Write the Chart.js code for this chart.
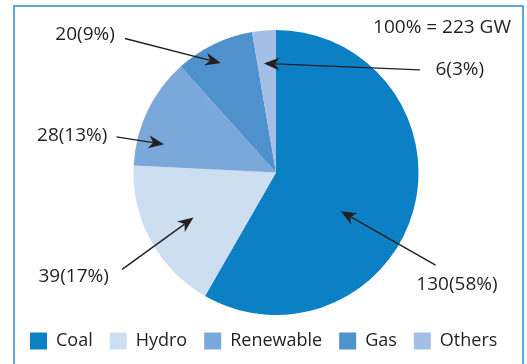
<!DOCTYPE html>
<html>
<head>
<meta charset="utf-8">
<title>Installed capacity by source</title>
<script src="https://cdn.jsdelivr.net/npm/chart.js@4"></script>
<style>
  html, body { margin: 0; padding: 0; background: #fff; overflow: hidden; }
  #frame {
    position: absolute; left: 13px; top: 5px;
    width: 511px; height: 420px;
    box-sizing: border-box;
    border: 2px solid #5ca9de;
  }
  #wrap { position: absolute; left: 0; top: 0; width: 539px; height: 364px; }
</style>
</head>
<body>
<div id="frame"></div>
<div id="wrap"><canvas id="capacityChart" width="539" height="364"></canvas></div>
<script>
// installed capacity, GW
const sources = ['Coal', 'Hydro', 'Renewable', 'Gas', 'Others'];
const capacityGW = [130, 39, 28, 20, 6];
const sliceColors = ['#0b80c4', '#cedef1', '#7ba8da', '#4f91cd', '#a4bfe5'];

// callout layout: t = where in the slice the arrow points, depth = fraction of radius,
// tail / label = offsets from the pie centre in units of radius
const callouts = [
    { t: 0.576, depth: 0.53, tail: [1.12, 0.65],   label: [1.27, 0.79] },
    { t: 0.50,  depth: 0.66, tail: [-1.08, 0.68],  label: [-1.42, 0.73] },
    { t: 0.25,  depth: 0.81, tail: [-1.12, -0.25], label: [-1.43, -0.26] },
    { t: 0.47,  depth: 0.86, tail: [-1.06, -0.94], label: [-1.34, -0.965] },
    { t: 0.35,  depth: 0.77, tail: [1.01, -0.72],  label: [1.29, -0.72] }
];

const TEXT = '#231f20';

// line with a notched, filled head ending at (x1, y1)
function drawArrow(ctx, x0, y0, x1, y1) {
    const ang = Math.atan2(y1 - y0, x1 - x0);
    const cos = Math.cos(ang), sin = Math.sin(ang);
    const headLen = 15.5, headHalf = 6.5, notch = 11;
    const bx = x1 - cos * headLen, by = y1 - sin * headLen;
    ctx.lineWidth = 1.4;
    ctx.beginPath();
    ctx.moveTo(x0, y0);
    ctx.lineTo(x1 - cos * notch, y1 - sin * notch);
    ctx.stroke();
    ctx.beginPath();
    ctx.moveTo(x1, y1);
    ctx.lineTo(bx - sin * headHalf, by + cos * headHalf);
    ctx.lineTo(x1 - cos * notch, y1 - sin * notch);
    ctx.lineTo(bx + sin * headHalf, by - cos * headHalf);
    ctx.closePath();
    ctx.fill();
}

const calloutPlugin = {
    id: 'callouts',
    afterDraw(chart) {
        const ctx = chart.ctx;
        const arcs = chart.getDatasetMeta(0).data;
        const total = capacityGW.reduce((a, b) => a + b, 0);
        ctx.save();
        ctx.fillStyle = TEXT;
        ctx.strokeStyle = TEXT;
        ctx.font = '19px "Open Sans"';
        ctx.textAlign = 'center';
        ctx.textBaseline = 'middle';

        arcs.forEach((arc, i) => {
            const c = callouts[i];
            const r = arc.outerRadius;
            const a = arc.startAngle + c.t * (arc.endAngle - arc.startAngle);
            const tipX = arc.x + Math.cos(a) * r * c.depth;
            const tipY = arc.y + Math.sin(a) * r * c.depth;
            drawArrow(ctx, arc.x + c.tail[0] * r, arc.y + c.tail[1] * r, tipX, tipY);

            const pct = Math.round(capacityGW[i] / total * 100);
            ctx.fillText(`${capacityGW[i]}(${pct}%)`, arc.x + c.label[0] * r, arc.y + c.label[1] * r);
        });

        const first = arcs[0];
        ctx.fillText(`100% = ${total} GW`, first.x + 1.165 * first.outerRadius, first.y - 1.02 * first.outerRadius);
        ctx.restore();
    }
};

new Chart(document.getElementById('capacityChart'), {
    type: 'pie',
    data: {
        labels: sources,
        datasets: [{
            data: capacityGW,
            backgroundColor: sliceColors,
            borderWidth: 0,
            hoverBorderWidth: 0,
            hoverOffset: 0
        }]
    },
    options: {
        responsive: false,
        devicePixelRatio: 1,
        animation: false,
        events: [],
        layout: { padding: { top: 30, left: 13, right: 0, bottom: 4 } },
        plugins: {
            tooltip: { enabled: false },
            legend: {
                position: 'bottom',
                align: 'start',
                labels: {
                    boxWidth: 17,
                    boxHeight: 17,
                    padding: 17,
                    color: TEXT,
                    font: { family: 'Open Sans', size: 18 }
                }
            }
        }
    },
    plugins: [calloutPlugin]
});
</script>
</body>
</html>
